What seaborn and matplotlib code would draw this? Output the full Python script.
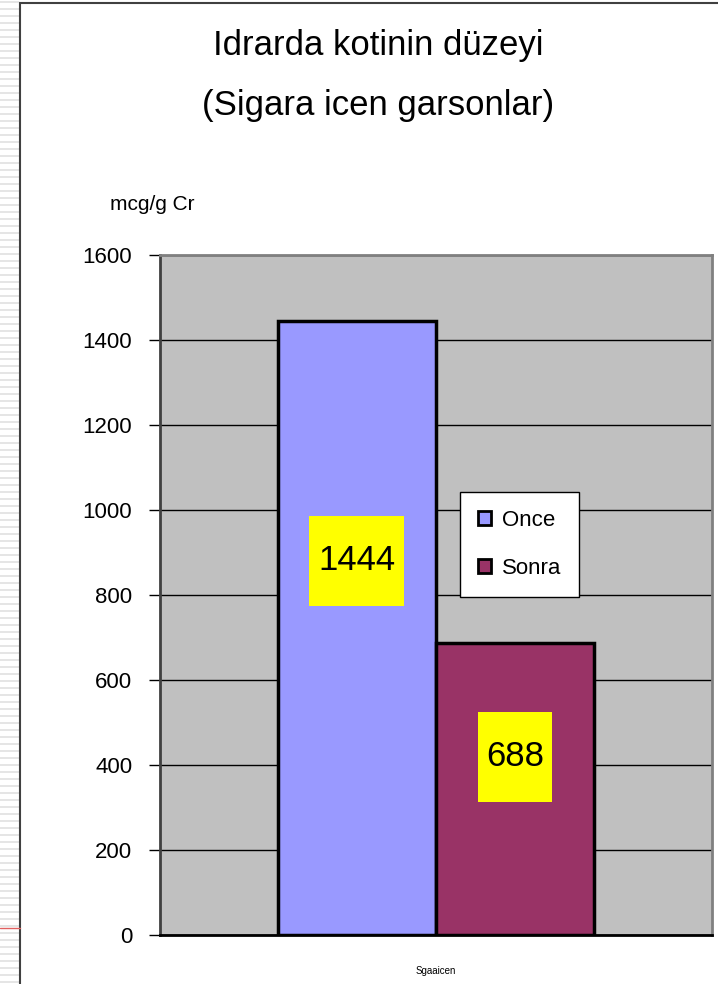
import matplotlib
matplotlib.use("Agg")
import matplotlib.pyplot as plt
from matplotlib.lines import Line2D
from matplotlib.patches import Rectangle
import seaborn as sns
import pandas as pd

# data
groups = ["Once", "Sonra"]
values = [1444, 688]
category = ["Sgaaicen"]
colors = ["#9999FF", "#993366"]
yticks = [0, 200, 400, 600, 800, 1000, 1200, 1400, 1600]

df = pd.DataFrame({"cat": category * len(groups), "grp": groups, "val": values})

sns.set_style("white")
plt.rcParams["font.family"] = ["Liberation Sans", "DejaVu Sans"]
plt.rcParams["text.color"] = "black"
plt.rcParams["xtick.color"] = "black"
plt.rcParams["ytick.color"] = "black"

fig = plt.figure(figsize=(7.18, 9.84), dpi=100)
ax = fig.add_axes([160 / 718, 49 / 984, 552 / 718, 680 / 984])

sns.barplot(data=df, x="cat", y="val", hue="grp", palette=colors, width=0.574,
            edgecolor="black", linewidth=2.5, saturation=1, ax=ax)

ax.set_facecolor("#C0C0C0")
ax.set_xlim(-0.5, 0.5)
ax.set_ylim(0, 1600)
ax.set_yticks(yticks)
ax.yaxis.grid(True, color="black", linewidth=1)
ax.set_axisbelow(True)
ax.tick_params(axis="y", labelsize=16, length=8, width=1, direction="out", left=True, pad=12)
ax.tick_params(axis="x", labelsize=7, length=0, pad=22)
ax.set_xlabel("")
ax.set_ylabel("")
for side, sp in ax.spines.items():
    sp.set_visible(True)
    sp.set_color("#808080")
    sp.set_linewidth(2)
ax.spines["left"].set_color("#404040")
ax.spines["bottom"].set_color("black")

# value labels in yellow boxes
box_w = [0.172, 0.134]
for bar, v, bw in zip(ax.patches, values, box_w):
    cx = bar.get_x() + bar.get_width() / 2
    cy = v * 0.61
    ax.add_patch(Rectangle((cx - bw / 2, cy - 106), bw, 212, facecolor="#FFFF00",
                           edgecolor="none", zorder=4))
    ax.text(cx, cy, str(v), ha="center", va="center", fontsize=25, zorder=5)

leg = ax.legend(loc="upper left", bbox_to_anchor=(0.5435, 0.651), fontsize=16,
                frameon=True, fancybox=False, edgecolor="black", framealpha=1,
                handlelength=0.6, handleheight=0.6, handletextpad=0.5,
                labelspacing=1.2, borderpad=0.8, borderaxespad=0)
leg.get_frame().set_linewidth(1)
for h in leg.legend_handles:
    h.set_linewidth(2)
    h.set_edgecolor("black")

fig.text(378 / 718, 1 - 45 / 984, "Idrarda kotinin düzeyi", ha="center", va="center", fontsize=25)
fig.text(378 / 718, 1 - 105 / 984, "(Sigara icen garsonlar)", ha="center", va="center", fontsize=25)
fig.text(152 / 718, 1 - 205 / 984, "mcg/g Cr", ha="center", va="center", fontsize=15)

# slide decoration: striped margin, border, red rule
for y in range(2, 984, 7):
    fig.add_artist(Line2D([0, 19 / 718], [1 - y / 984] * 2, color="#E0E0E0", linewidth=1.2))
fig.add_artist(Line2D([20 / 718, 20 / 718], [0, 1 - 3 / 984], color="#404040", linewidth=1.5))
fig.add_artist(Line2D([20 / 718, 1], [1 - 3 / 984] * 2, color="#404040", linewidth=1.5))
fig.add_artist(Line2D([0, 20 / 718], [1 - 928 / 984] * 2, color="#E06060", linewidth=1))

fig.savefig("out.png", dpi=100)
